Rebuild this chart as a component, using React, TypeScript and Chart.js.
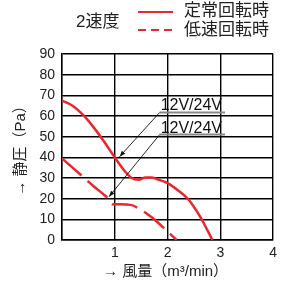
import React, { useEffect, useRef } from "react";
import { Chart, registerables } from "chart.js";

Chart.register(...registerables);

// Air flow (m3/min) vs static pressure (Pa)
const normalX = [0, 0.2, 0.4, 0.6, 0.8, 1.0, 1.2, 1.32, 1.45, 1.58, 1.7, 1.85, 2.0, 2.2, 2.4, 2.6, 2.75, 2.85];
const normalY = [67.5, 65, 60.5, 54.5, 47.5, 40, 33, 30, 29.2, 30.3, 30.2, 29, 27.5, 24, 19.5, 12, 5, 0];
const lowX = [0, 0.2, 0.4, 0.6, 0.8, 0.9, 0.95, 1.1, 1.3, 1.5, 1.7, 1.9, 2.05, 2.17];
const lowY = [39.5, 35, 30.5, 26, 21.8, 19.5, 17.3, 17.3, 17, 14.5, 11, 6.5, 3, 0];

const legendTitle = "2速度";
const seriesNames = ["定常回転時", "低速回転時"];
const annotationText = ["12V/24V", "12V/24V"];
// arrow start (label anchor) and arrow target in data coordinates
const annotAnchorX = [1.85, 1.85];
const annotAnchorY = [61.7, 51];
const annotTargetX = [1.09, 0.89];
const annotTargetY = [40.3, 20.9];

const xTitle = "→ 風量（m³/min）";
const yTitle = "→ 静圧（Pa）";

const RED = "rgb(236,38,44)";
const FONT = "'Liberation Sans', 'Noto Sans CJK JP', sans-serif";

export default function App() {
  const ref = useRef<HTMLCanvasElement | null>(null);

  useEffect(() => {
    const canvas = ref.current;
    if (!canvas) return;

    const overlay = {
      id: "overlay",
      afterDraw(chart: any) {
        const ctx = chart.ctx as CanvasRenderingContext2D;
        const xs = chart.scales.x;
        const ys = chart.scales.y;
        const area = chart.chartArea;
        ctx.save();
        // legend
        ctx.fillStyle = "#222";
        ctx.textBaseline = "middle";
        ctx.textAlign = "left";
        ctx.font = `17px ${FONT}`;
        ctx.fillText(legendTitle, 76, 22);
        ctx.fillText(seriesNames[0], 184, 11);
        ctx.fillText(seriesNames[1], 184, 30);
        ctx.strokeStyle = RED;
        ctx.lineWidth = 2;
        ctx.beginPath();
        ctx.moveTo(138, 12);
        ctx.lineTo(173, 12);
        ctx.stroke();
        ctx.setLineDash([8, 5]);
        ctx.beginPath();
        ctx.moveTo(138, 30);
        ctx.lineTo(173, 30);
        ctx.stroke();
        ctx.setLineDash([]);

        // axis titles
        ctx.font = `15px ${FONT}`;
        ctx.fillStyle = "#222";
        ctx.textAlign = "center";
        ctx.fillText(xTitle, (area.left + area.right) / 2 - 2, 272);
        ctx.save();
        ctx.translate(21, (area.top + area.bottom) / 2);
        ctx.rotate(-Math.PI / 2);
        ctx.fillText(yTitle, 0, 0);
        ctx.restore();

        // annotations
        for (let i = 0; i < annotationText.length; i++) {
          const ax = xs.getPixelForValue(annotAnchorX[i]);
          const ay = ys.getPixelForValue(annotAnchorY[i]);
          const tx = xs.getPixelForValue(annotTargetX[i]);
          const ty = ys.getPixelForValue(annotTargetY[i]);
          ctx.font = `16px ${FONT}`;
          ctx.fillStyle = "#111";
          ctx.textAlign = "left";
          ctx.textBaseline = "alphabetic";
          const w = ctx.measureText(annotationText[i]).width;
          ctx.fillText(annotationText[i], ax + 1, ay - 2);
          ctx.strokeStyle = "#888";
          ctx.lineWidth = 2;
          ctx.beginPath();
          ctx.moveTo(ax, ay);
          ctx.lineTo(ax + w + 4, ay);
          ctx.stroke();
          // arrow
          ctx.strokeStyle = "#111";
          ctx.lineWidth = 0.9;
          ctx.beginPath();
          ctx.moveTo(ax, ay);
          ctx.lineTo(tx, ty);
          ctx.stroke();
          const ang = Math.atan2(ty - ay, tx - ax);
          const L = 6, H = 2.2;
          ctx.fillStyle = "#111";
          ctx.beginPath();
          ctx.moveTo(tx, ty);
          ctx.lineTo(tx - L * Math.cos(ang) + H * Math.sin(ang), ty - L * Math.sin(ang) - H * Math.cos(ang));
          ctx.lineTo(tx - L * Math.cos(ang) - H * Math.sin(ang), ty - L * Math.sin(ang) + H * Math.cos(ang));
          ctx.closePath();
          ctx.fill();
        }
        ctx.restore();
      },
    };

    const chart = new Chart(canvas, {
      type: "line",
      data: {
        datasets: [
          {
            label: seriesNames[0],
            data: normalX.map((x, i) => ({ x, y: normalY[i] })),
            borderColor: RED,
            borderWidth: 2.5,
            pointRadius: 0,
            cubicInterpolationMode: "monotone",
          },
          {
            label: seriesNames[1],
            data: lowX.map((x, i) => ({ x, y: lowY[i] })),
            borderColor: RED,
            borderWidth: 2.5,
            borderDash: [26, 8],
            pointRadius: 0,
            cubicInterpolationMode: "monotone",
          },
        ],
      },
      options: {
        responsive: false,
        animation: false,
        devicePixelRatio: 1,
        layout: { padding: { top: 54, right: 4, left: 0, bottom: 0 } },
        plugins: { legend: { display: false }, tooltip: { enabled: false } },
        scales: {
          x: {
            type: "linear",
            min: 0,
            max: 4,
            afterFit: (s: any) => { s.height = 42; },
            grid: { color: "#000", lineWidth: 1.4, drawTicks: false },
            border: { color: "#000", width: 1.4 },
            ticks: {
              stepSize: 1,
              padding: 5,
              color: "#222",
              font: { family: FONT, size: 14 },
              callback: (v: any) => (v === 0 ? "" : String(v)),
            },
          },
          y: {
            type: "linear",
            min: 0,
            max: 90,
            afterFit: (s: any) => { s.width = 62; },
            grid: { color: "#000", lineWidth: 1.4, drawTicks: false },
            border: { color: "#000", width: 1.4 },
            ticks: {
              stepSize: 10,
              padding: 7,
              color: "#222",
              font: { family: FONT, size: 14 },
            },
          },
        },
      },
      plugins: [overlay],
    } as any);

    return () => chart.destroy();
  }, []);

  return (
    <div style={{ position: "absolute", left: 0, top: 0, width: 282, height: 282, background: "#fff" }}>
      <canvas ref={ref} width={282} height={282} />
    </div>
  );
}
